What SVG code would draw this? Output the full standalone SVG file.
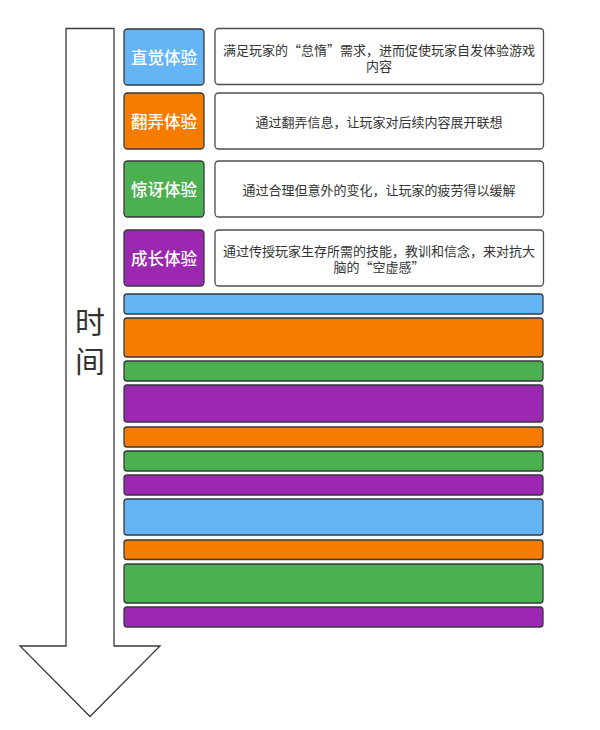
<svg xmlns="http://www.w3.org/2000/svg" width="600" height="730" viewBox="0 0 600 730">
<style>
.bg{fill:#ffffff}
.lbl{stroke:#36393d;stroke-width:1.3}
.desc{fill:#ffffff;stroke:#4d4d4d;stroke-width:1.3}
.bar{stroke:#36393d;stroke-width:1.3}
.blue{fill:#64b5f6}
.orange{fill:#f57c00}
.green{fill:#4caf50}
.purple{fill:#9c27b0}
.lt{font-family:"Noto Sans CJK SC","Noto Sans",sans-serif;font-size:16.5px;font-weight:500;fill:#ffffff;text-anchor:middle;dominant-baseline:central}
.dt{font-family:"Noto Sans CJK SC","Noto Sans",sans-serif;font-size:13px;fill:#333333;text-anchor:middle;dominant-baseline:central}
.tt{font-family:"Noto Sans CJK SC","Noto Sans",sans-serif;font-size:30px;fill:#333333;text-anchor:middle;dominant-baseline:central}
</style>
<rect class="bg" x="0" y="0" width="600" height="730"/>
<g id="time-arrow">
<path d="M66,28.5 L114,28.5 L114,646 L160,646 L90,716.5 L20,646 L66,646 Z" fill="#ffffff" stroke="#36393d" stroke-width="1.3"/>
<text class="tt" x="90" y="320">时</text>
<text class="tt" x="90" y="359">间</text>
</g>
<g id="label-intuition"><rect class="lbl blue" x="124" y="29" width="80" height="56" rx="3.5"/><text class="lt" x="164" y="57">直觉体验</text></g>
<g id="desc-intuition"><rect class="desc" x="215" y="28.5" width="328.5" height="56" rx="3.5"/><text class="dt" x="379" y="49.5">满足玩家的“怠惰”需求，进而促使玩家自发体验游戏</text><text class="dt" x="379" y="65.5">内容</text></g>
<g id="label-flip"><rect class="lbl orange" x="124" y="93" width="80" height="56" rx="3.5"/><text class="lt" x="164" y="121">翻弄体验</text></g>
<g id="desc-flip"><rect class="desc" x="215" y="93" width="328.5" height="56" rx="3.5"/><text class="dt" x="379" y="121">通过翻弄信息，让玩家对后续内容展开联想</text></g>
<g id="label-surprise"><rect class="lbl green" x="124" y="161" width="80" height="56" rx="3.5"/><text class="lt" x="164" y="189">惊讶体验</text></g>
<g id="desc-surprise"><rect class="desc" x="215" y="161" width="328.5" height="56" rx="3.5"/><text class="dt" x="379" y="189">通过合理但意外的变化，让玩家的疲劳得以缓解</text></g>
<g id="label-growth"><rect class="lbl purple" x="124" y="230" width="80" height="56" rx="3.5"/><text class="lt" x="164" y="258">成长体验</text></g>
<g id="desc-growth"><rect class="desc" x="215" y="230" width="328.5" height="56" rx="3.5"/><text class="dt" x="379" y="250">通过传授玩家生存所需的技能，教训和信念，来对抗大</text><text class="dt" x="379" y="266">脑的“空虚感”</text></g>
<g id="bars">
<rect class="bar blue" x="124" y="294" width="419" height="20" rx="3"/>
<rect class="bar orange" x="124" y="318" width="419" height="39" rx="3"/>
<rect class="bar green" x="124" y="361" width="419" height="20" rx="3"/>
<rect class="bar purple" x="124" y="385" width="419" height="37" rx="3"/>
<rect class="bar orange" x="124" y="427" width="419" height="20" rx="3"/>
<rect class="bar green" x="124" y="451" width="419" height="20" rx="3"/>
<rect class="bar purple" x="124" y="475" width="419" height="20" rx="3"/>
<rect class="bar blue" x="124" y="499" width="419" height="36" rx="3"/>
<rect class="bar orange" x="124" y="540" width="419" height="19.5" rx="3"/>
<rect class="bar green" x="124" y="564" width="419" height="39" rx="3"/>
<rect class="bar purple" x="124" y="607" width="419" height="20" rx="3"/>
</g>
<g id="connectors"/>
</svg>
